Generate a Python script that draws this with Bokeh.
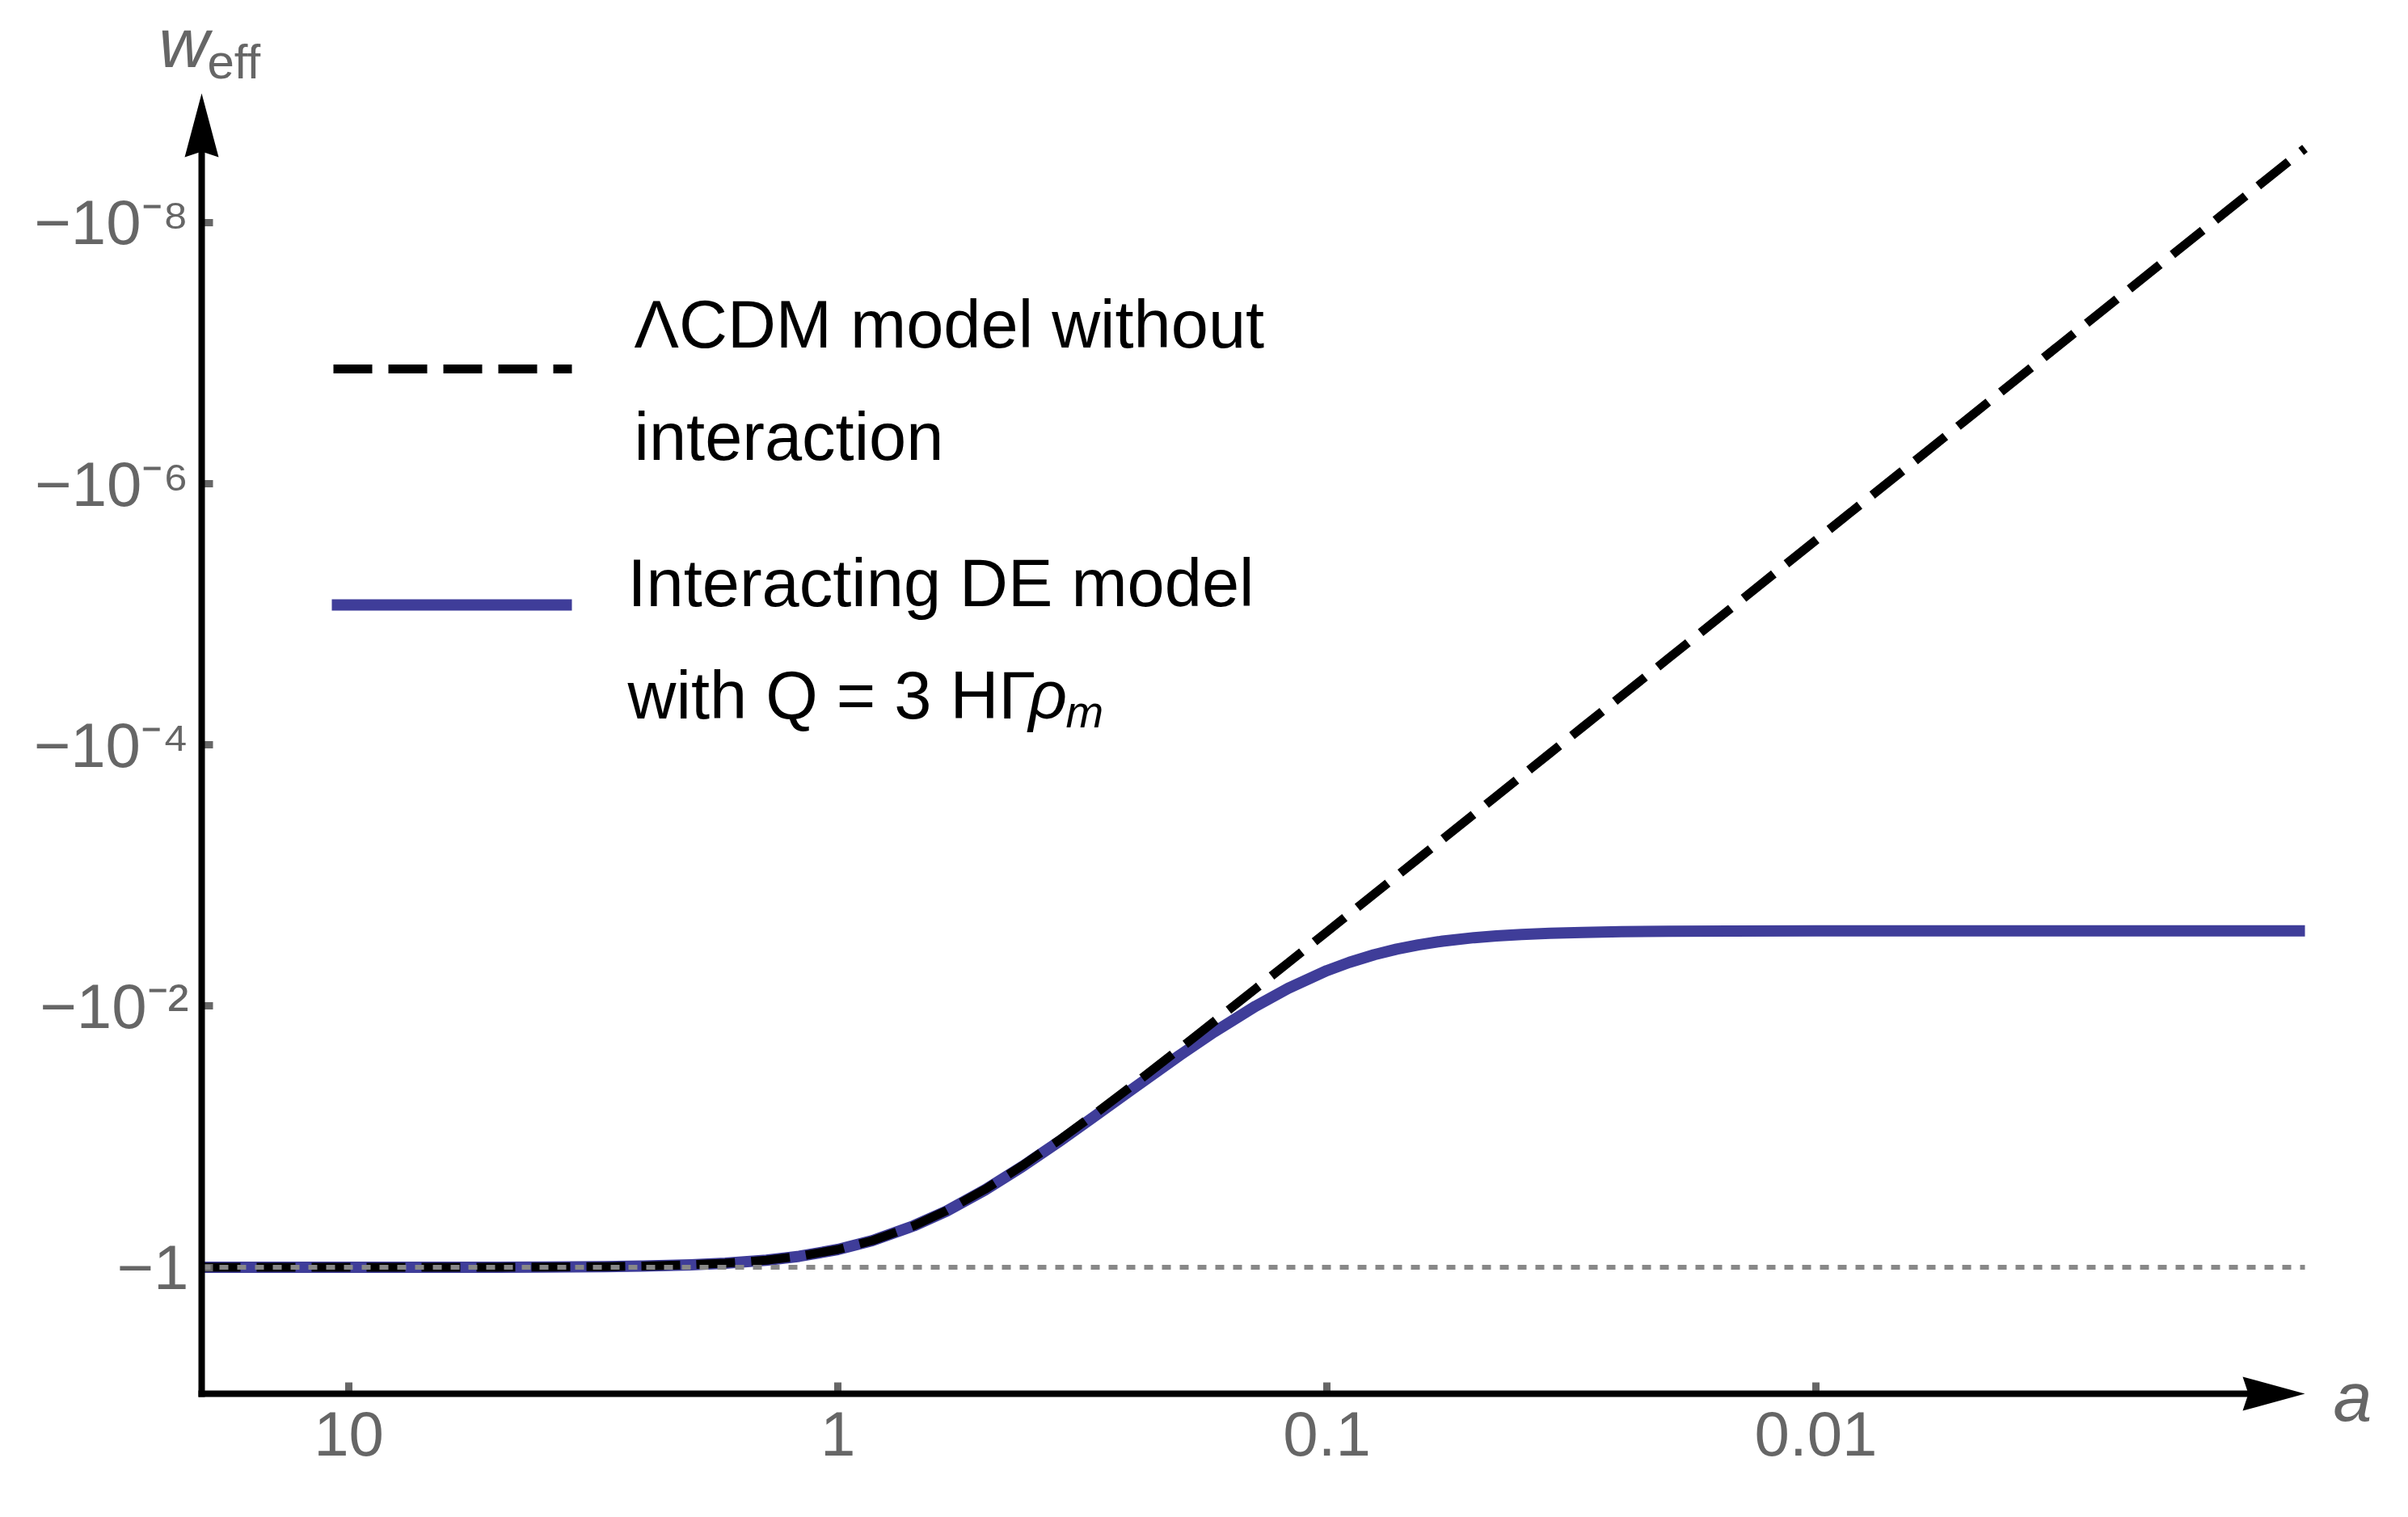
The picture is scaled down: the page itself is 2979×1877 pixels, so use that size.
import numpy as np
from bokeh.plotting import figure
from bokeh.models import (Range1d, FixedTicker, Label, PolyAnnotation,
                          Arrow, ColumnDataSource)
from bokeh.embed import file_html
from bokeh.resources import INLINE

# ---------------- data ----------------
a_vals = [20, 10, 7, 5, 4, 3, 2.5, 2, 1.7, 1.4, 1.2, 1.0, 0.85, 0.7, 0.6, 0.5,
          0.42, 0.35, 0.3, 0.25, 0.2, 0.17, 0.14, 0.12, 0.1, 0.09, 0.08, 0.072,
          0.065, 0.058, 0.05, 0.045, 0.04, 0.035, 0.03, 0.025, 0.02, 0.015,
          0.01, 0.005, 0.002, 0.001]

# Lambda-CDM without interaction (dashed black)
w_lcdm = [-0.99995, -0.99963, -0.99892, -0.99705, -0.99425, -0.98648, -0.97687,
          -0.95580, -0.92996, -0.88118, -0.82363, -0.72993, -0.62403, -0.48107,
          -0.36860, -0.25253, -0.16683, -0.10384, -0.068010, -0.040519,
          -0.021164, -0.013104, -0.0073616, -0.0046486, -0.0026954, -0.0019664,
          -0.0013818, -0.0010078, -0.00074166, -0.00052707, -0.00033772,
          -0.00024623, -0.00017294, -0.00011586, -7.2968e-5, -4.2228e-5,
          -2.1621e-5, -9.1215e-6, -2.7027e-6, -3.3784e-7, -2.1622e-8, -2.7027e-9]

# Interacting DE model (solid blue)
w_int = [-0.99995, -0.99963, -0.99892, -0.99705, -0.99425, -0.98648, -0.97687,
         -0.95580, -0.92996, -0.88118, -0.82363, -0.72993, -0.62403, -0.48107,
         -0.37125, -0.25518, -0.16948, -0.10649, -0.070660, -0.043169,
         -0.023814, -0.015754, -0.010012, -0.0072986, -0.0053454, -0.0046164,
         -0.0040318, -0.0036578, -0.0033917, -0.0031771, -0.0029877,
         -0.0028962, -0.0028229, -0.0027659, -0.0027230, -0.0026922,
         -0.0026716, -0.0026591, -0.0026527, -0.0026503, -0.0026500, -0.0026500]

w_reference = -1.0                     # dotted line

x_ticks = [10, 1, 0.1, 0.01]
x_tick_labels = ["10", "1", "0.1", "0.01"]
y_ticks = [1, 1e-2, 1e-4, 1e-6, 1e-8]          # |w_eff|
y_tick_labels = ["\u22121", "\u221210\u207b\u00b2", "\u221210\u207b\u2074",
                 "\u221210\u207b\u2076", "\u221210\u207b\u2078"]

legend_lines = ["\u039bCDM model without", "interaction",
                "Interacting DE model", "with Q = 3 H\u0393"]

# ---------------- layout (canvas pixels) ----------------
W, H = 2962, 1860
AXL, AXR = 249, 2851        # y-axis position, x-axis arrow tip
AYB, AYT = 1724, 115        # x-axis position, y-axis arrow tip
XA0, XA1 = 20.0, 0.001      # a at AXL / AXR
YA0, YA1 = 10 ** 0.968, 10 ** -8.99   # |w| at AYB / AYT

BLUE = "#3f3d99"
GRAY = "#666666"
FONT = "Liberation Sans"

_lx0, _lx1 = np.log10(XA0), np.log10(XA1)
_ly0, _ly1 = np.log10(YA0), np.log10(YA1)


def dx(px):
    return float(10 ** (_lx0 + (px - AXL) * (_lx1 - _lx0) / (AXR - AXL)))


def dy(py):
    return float(10 ** (_ly0 + (AYB - py) * (_ly1 - _ly0) / (AYB - AYT)))


def text(px, py_mid, s, size, color="black", style="normal"):
    return Label(x=dx(px), y=dy(py_mid), text=s, text_font=FONT,
                 text_font_size=f"{size}px", text_font_style=style,
                 text_color=color, text_align="left", text_baseline="middle")


p = figure(width=W, height=H, x_axis_type="log", y_axis_type="log",
           x_range=Range1d(dx(0), dx(W)), y_range=Range1d(dy(H), dy(0)),
           output_backend="svg", toolbar_location=None, min_border=0,
           min_border_left=0, min_border_right=0, min_border_top=0,
           min_border_bottom=0)
p.title.visible = False
p.outline_line_color = None
p.grid.visible = False
p.background_fill_color = "white"
p.border_fill_color = "white"

xa = p.xaxis[0]
ya = p.yaxis[0]
xa.fixed_location = YA0
ya.fixed_location = XA0
xa.ticker = FixedTicker(ticks=x_ticks)
ya.ticker = FixedTicker(ticks=y_ticks)
xa.major_label_overrides = {t: s for t, s in zip(x_ticks, x_tick_labels)}
ya.major_label_overrides = {t: s for t, s in zip(y_ticks, y_tick_labels)}
for ax in (xa, ya):
    ax.axis_line_color = None
    ax.major_tick_in = 14
    ax.major_tick_out = 0
    ax.major_tick_line_width = 9
    ax.major_tick_line_color = GRAY
    ax.minor_tick_line_color = None
    ax.major_label_text_font = FONT
    ax.major_label_text_font_size = "78px"
    ax.major_label_text_color = GRAY
xa.major_label_standoff = 22
ya.major_label_standoff = 16

src = ColumnDataSource(dict(a=a_vals,
                            lcdm=[-w for w in w_lcdm],
                            inter=[-w for w in w_int]))
p.line("a", "inter", source=src, line_color=BLUE, line_width=14,
       line_join="round")
p.line("a", "lcdm", source=src, line_color="black", line_width=11,
       line_dash="48 20")

# w_eff = -1 reference line (dotted)
p.add_layout(Arrow(x_start=XA0, y_start=-w_reference, x_end=XA1,
                   y_end=-w_reference, start=None, end=None,
                   line_color="#888888", line_width=6, line_dash="11 11"))

# axis lines
p.add_layout(Arrow(x_start=dx(AXL - 4), y_start=YA0, x_end=dx(AXR - 60),
                   y_end=YA0, start=None, end=None, line_color="black",
                   line_width=8))
p.add_layout(Arrow(x_start=XA0, y_start=dy(AYB + 4), x_end=XA0,
                   y_end=dy(AYT + 60), start=None, end=None,
                   line_color="black", line_width=8))

# axis arrow heads
p.add_layout(PolyAnnotation(
    xs=[dx(AXR), dx(AXR - 77), dx(AXR - 70), dx(AXR - 77)],
    ys=[dy(AYB), dy(AYB - 21), dy(AYB), dy(AYB + 21)],
    fill_color="black", fill_alpha=1.0, line_color=None))
p.add_layout(PolyAnnotation(
    xs=[dx(AXL), dx(AXL - 21), dx(AXL), dx(AXL + 21)],
    ys=[dy(AYT), dy(AYT + 79), dy(AYT + 72), dy(AYT + 79)],
    fill_color="black", fill_alpha=1.0, line_color=None))

# axis titles
p.add_layout(text(196, 52, "w", 86, GRAY, "italic"))
p.add_layout(text(256, 76, "eff", 60, GRAY))
p.add_layout(text(2886, 1727, "a", 86, GRAY, "italic"))

# legend
p.add_layout(Arrow(x_start=dx(412), y_start=dy(456), x_end=dx(707),
                   y_end=dy(456), start=None, end=None, line_color="black",
                   line_width=11, line_dash="48 20"))
p.add_layout(Arrow(x_start=dx(410), y_start=dy(748), x_end=dx(707),
                   y_end=dy(748), start=None, end=None, line_color=BLUE,
                   line_width=14))
for s, px, py in zip(legend_lines, [784, 784, 776, 776], [401, 540, 721, 860]):
    p.add_layout(text(px, py, s, 83))
p.add_layout(text(1272, 860, "\u03c1", 83, "black", "italic"))
p.add_layout(text(1318, 880, "m", 56, "black", "italic"))

open("out.html", "w").write(file_html(p, INLINE))
